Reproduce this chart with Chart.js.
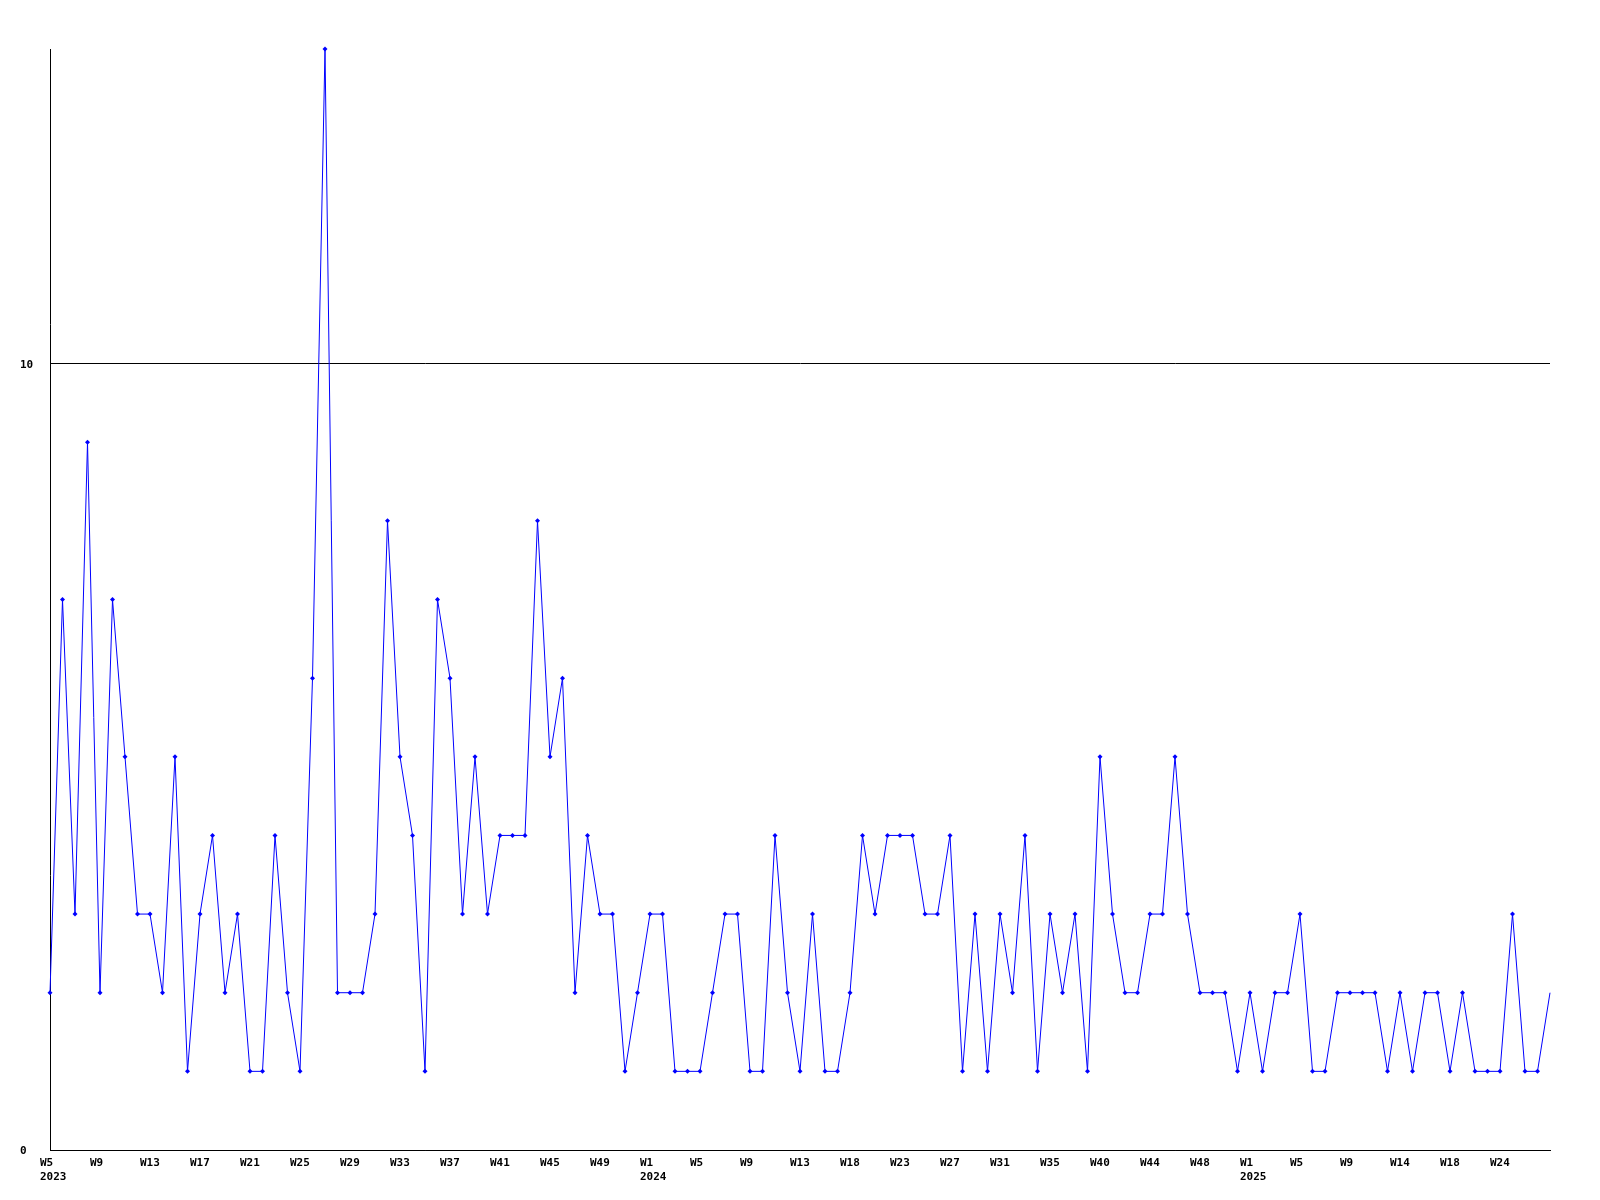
<!DOCTYPE html>
<html>
<head>
<meta charset="utf-8">
<script src="https://cdn.jsdelivr.net/npm/chart.js@4/dist/chart.umd.min.js"></script>
<style>
	body { margin: 0; background: #fff; }
	canvas { display: block; }
</style>
</head>
<body>
<canvas id="chart" width="1600" height="1200"></canvas>
<script>
// weekly values, 2023 W5 .. 2025
const values = [
	2, 7, 3, 9, 2, 7, 5, 3, 3, 2, 5, 1, 3, 4, 2, 3, 1, 1, 4, 2,
	1, 6, 14, 2, 2, 2, 3, 8, 5, 4, 1, 7, 6, 3, 5, 3, 4, 4, 4, 8,
	5, 6, 2, 4, 3, 3, 1, 2, 3, 3, 1, 1, 1, 2, 3, 3, 1, 1, 4, 2,
	1, 3, 1, 1, 2, 4, 3, 4, 4, 4, 3, 3, 4, 1, 3, 1, 3, 2, 4, 1,
	3, 2, 3, 1, 5, 3, 2, 2, 3, 3, 5, 3, 2, 2, 2, 1, 2, 1, 2, 2,
	3, 1, 1, 2, 2, 2, 2, 1, 2, 1, 2, 2, 1, 2, 1, 1, 1, 3, 1, 1,
	2
];
// one label every 4th point
const weekTicks = [
	"W5", "W9", "W13", "W17", "W21", "W25", "W29", "W33", "W37", "W41", "W45", "W49",
	"W1", "W5", "W9", "W13", "W18", "W23", "W27", "W31", "W35", "W40", "W44", "W48",
	"W1", "W5", "W9", "W14", "W18", "W24"
];
const yearTicks = { 0: "2023", 48: "2024", 96: "2025" };
const yTicks = [0, 10];
const categories = values.map((v, i) => (i % 4 == 0 && weekTicks[i / 4]) || "");

const font = { family: "DejaVu Sans Mono", size: 11, weight: "bold", lineHeight: 1.3 };

new Chart(document.getElementById("chart"), {
	type: "line",
	data: {
		labels: categories,
		datasets: [
			{
				data: values,
				borderColor: "#0000ff",
				backgroundColor: "#0000ff",
				borderWidth: 1,
				tension: 0,
				pointStyle: "rectRot",
				// last point sits on the edge, no marker there
				pointRadius: (ctx) => (ctx.dataIndex == values.length - 1 ? 0 : 2.5),
				pointBorderWidth: 0,
				clip: false,
			},
		],
	},
	options: {
		responsive: false,
		animation: false,
		layout: { padding: { top: 49, left: 20, right: 50, bottom: 0 } },
		plugins: { legend: { display: false }, tooltip: { enabled: false } },
		scales: {
			x: {
				offset: false,
				grid: { display: false, drawTicks: false },
				border: { color: "#000", width: 1 },
				afterFit: (scale) => {
					scale.height = 50;
				},
				ticks: {
					autoSkip: false,
					maxRotation: 0,
					align: "start",
					labelOffset: -10,
					padding: 6,
					color: "#000",
					font: font,
					callback: function (val, idx) {
						const w = weekTicks[idx / 4];
						if (idx % 4 != 0 || !w) return null;
						return yearTicks[idx] ? [w, yearTicks[idx]] : w;
					},
				},
			},
			y: {
				min: 0,
				max: 14,
				afterBuildTicks: (scale) => {
					scale.ticks = yTicks.map((v) => ({ value: v }));
				},
				afterFit: (scale) => {
					scale.width = 30;
				},
				grid: { color: "#000", drawTicks: false, lineWidth: 1 },
				border: { color: "#000", width: 1 },
				ticks: {
					crossAlign: "far",
					labelOffset: 1.5,
					color: "#000",
					font: font,
				},
			},
		},
	},
});
</script>
</body>
</html>
